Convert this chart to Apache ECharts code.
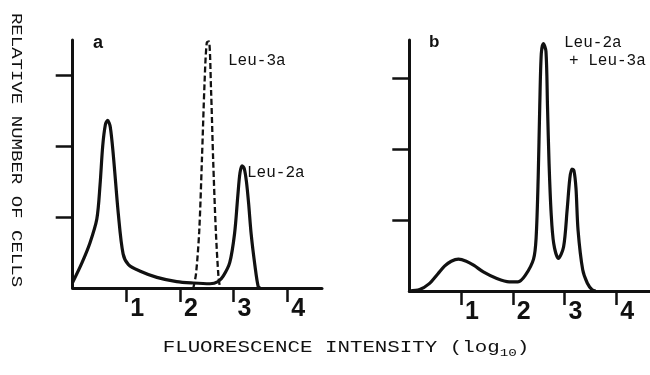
<!DOCTYPE html>
<html>
<head>
  <meta charset="utf-8" />
  <title>fluorescence histograms</title>
  <style type="text/css">
    html, body { margin: 0; padding: 0; background: #fff; }
    #main { width: 650px; height: 375px; }
  </style>
</head>
<body>
  <div id="main"></div>
  <script src="https://cdn.jsdelivr.net/npm/echarts@6/dist/echarts.min.js"></script>
  <script>
    // tick positions (log10 fluorescence / relative cell counts)
    var xTicks = [1, 2, 3, 4];
    var yTicks = [1, 2, 3];

    // panel a: Leu-2a (solid) and Leu-3a (dashed)
    var leu2aA = [
      [0, 0.08], [0.17, 0.35], [0.32, 0.63], [0.45, 0.97], [0.51, 1.45], [0.56, 2.0],
      [0.61, 2.3], [0.65, 2.36], [0.70, 2.27], [0.76, 1.85], [0.85, 1.05], [0.94, 0.48],
      [1.04, 0.33], [1.25, 0.24], [1.57, 0.15], [1.94, 0.09], [2.25, 0.07], [2.56, 0.06],
      [2.71, 0.09], [2.81, 0.17], [2.93, 0.36], [3.02, 0.77], [3.08, 1.3], [3.12, 1.62],
      [3.16, 1.72], [3.20, 1.68], [3.24, 1.5], [3.28, 1.2], [3.33, 0.75], [3.40, 0.31],
      [3.46, 0.02], [3.5, 0]
    ];
    var leu3aA = [
      [2.25, 0.0], [2.30, 0.2], [2.36, 0.8], [2.41, 1.8], [2.46, 2.9], [2.50, 3.45],
      [2.54, 3.47], [2.58, 2.8], [2.62, 1.8], [2.67, 0.8], [2.72, 0.15], [2.75, 0]
    ];

    // panel b: Leu-2a + Leu-3a
    var bothB = [
      [0, 0], [0.2, 0.02], [0.38, 0.1], [0.55, 0.24], [0.68, 0.35], [0.81, 0.42],
      [0.95, 0.45], [1.1, 0.42], [1.25, 0.36], [1.43, 0.27], [1.68, 0.18], [1.93, 0.13],
      [2.1, 0.13], [2.24, 0.22], [2.40, 0.45], [2.45, 0.75], [2.49, 1.6], [2.52, 2.6],
      [2.55, 3.35], [2.59, 3.49], [2.64, 3.38], [2.67, 2.6], [2.70, 1.8], [2.74, 1.1],
      [2.79, 0.67], [2.88, 0.46], [2.98, 0.62], [3.05, 1.15], [3.10, 1.58], [3.14, 1.72],
      [3.18, 1.70], [3.22, 1.45], [3.26, 0.86], [3.35, 0.30], [3.44, 0.11], [3.53, 0.02], [3.6, 0]
    ];

    var ink = '#111';
    var mono = 'Liberation Mono';
    var myChart = echarts.init(document.getElementById('main'));

    function xAxisFor(idx) {
      return {
        gridIndex: idx,
        type: 'value',
        min: 0,
        max: 4.65,
        axisLine: { show: true, onZero: false, lineStyle: { color: ink, width: 3 } },
        axisTick: { show: true, customValues: xTicks, length: 14, lineStyle: { color: ink, width: 2.5 } },
        axisLabel: {
          show: true,
          customValues: xTicks,
          align: 'left',
          padding: [0, 0, 0, 4],
          margin: 9,
          color: ink,
          fontFamily: 'Liberation Sans',
          fontWeight: 'bold',
          fontSize: 25
        },
        splitLine: { show: false }
      };
    }

    function yAxisFor(idx, max) {
      return {
        gridIndex: idx,
        type: 'value',
        min: 0,
        max: max,
        axisLine: { show: true, onZero: false, lineStyle: { color: ink, width: 3 } },
        axisTick: { show: true, customValues: yTicks, length: 17, lineStyle: { color: ink, width: 2.5 } },
        axisLabel: { show: false },
        splitLine: { show: false }
      };
    }

    function curve(idx, data, dashed) {
      return {
        type: 'line',
        xAxisIndex: idx,
        yAxisIndex: idx,
        data: data,
        showSymbol: false,
        smooth: 0.3,
        silent: true,
        lineStyle: {
          color: ink,
          width: dashed ? 2.3 : 3.2,
          type: dashed ? [6, 3] : 'solid'
        }
      };
    }

    function label(text, x, y, size) {
      return {
        type: 'text',
        x: x,
        y: y,
        style: {
          text: text,
          fill: ink,
          fontFamily: mono,
          fontSize: size,
          textAlign: 'left',
          textVerticalAlign: 'middle'
        }
      };
    }

    var option = {
      backgroundColor: '#fff',
      animation: false,
      grid: [
        { left: 72.7, top: 40, width: 249.3, height: 248 },
        { left: 409.3, top: 40, width: 251, height: 251 }
      ],
      xAxis: [xAxisFor(0), xAxisFor(1)],
      yAxis: [yAxisFor(0, 3.49), yAxisFor(1, 3.54)],
      series: [
        curve(0, leu2aA, false),
        curve(0, leu3aA, true),
        curve(1, bothB, false)
      ],
      graphic: [
        {
          type: 'text',
          x: 16,
          y: 150,
          rotation: -Math.PI / 2,
          scaleX: 1.36,
          style: {
            text: 'RELATIVE NUMBER OF CELLS',
            fill: ink,
            fontFamily: mono,
            fontSize: 14,
            textAlign: 'center',
            textVerticalAlign: 'middle'
          }
        },
        {
          type: 'text',
          x: 346,
          y: 348,
          scaleX: 1.3,
          style: {
            text: 'FLUORESCENCE INTENSITY (log{sub|10})',
            fill: ink,
            fontFamily: mono,
            fontSize: 16,
            textAlign: 'center',
            textVerticalAlign: 'middle',
            rich: {
              sub: { fontFamily: mono, fontSize: 11, fill: ink, padding: [10, 0, 0, 0] }
            }
          }
        },
        {
          type: 'text', x: 93, y: 43,
          style: { text: 'a', fill: ink, fontFamily: 'Liberation Sans', fontWeight: 'bold', fontSize: 18, textAlign: 'left', textVerticalAlign: 'middle' }
        },
        {
          type: 'text', x: 429, y: 42,
          style: { text: 'b', fill: ink, fontFamily: 'Liberation Sans', fontWeight: 'bold', fontSize: 17, textAlign: 'left', textVerticalAlign: 'middle' }
        },
        label('Leu-3a', 228, 61, 16),
        label('Leu-2a', 247, 173, 16),
        label('Leu-2a', 564, 43, 16),
        label('+ Leu-3a', 569, 61, 16)
      ]
    };

    myChart.setOption(option);
  </script>
</body>
</html>
